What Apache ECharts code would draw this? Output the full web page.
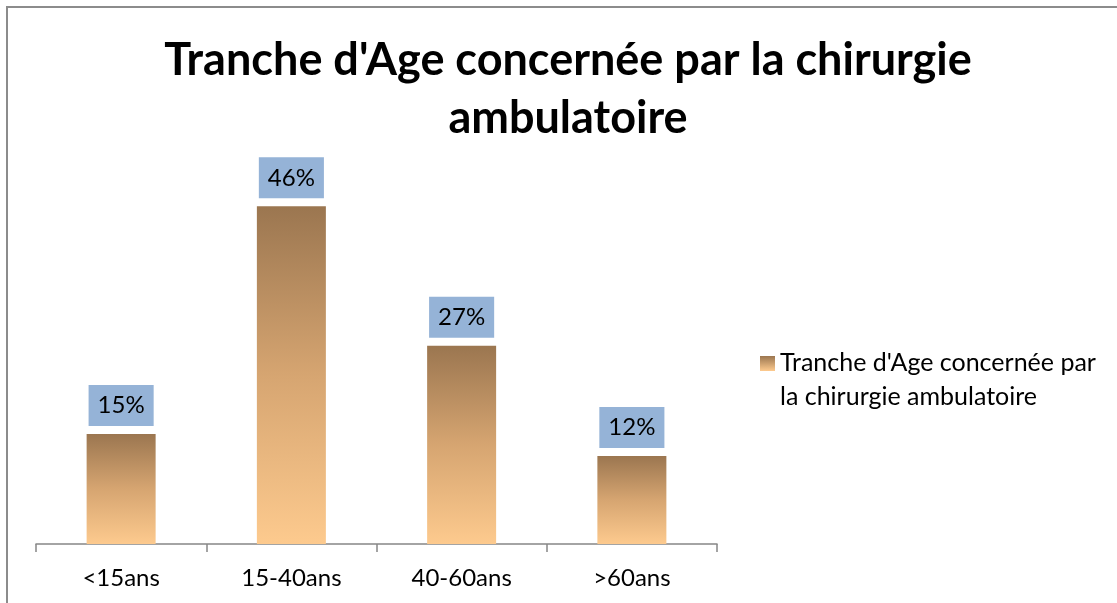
<!DOCTYPE html>
<html>
<head>
<meta charset="utf-8">
<script src="https://cdn.jsdelivr.net/npm/echarts@6/dist/echarts.min.js"></script>
<style>
  html, body { margin: 0; padding: 0; background: #fff; }
  #chart { width: 1117px; height: 603px; }
</style>
</head>
<body>
<div id="chart"></div>
<script>
    var categories = ['<15ans', '15-40ans', '40-60ans', '>60ans'];
    var values = [15, 46, 27, 12];
    var seriesName = "Tranche d'Age concernée par la chirurgie ambulatoire";

    var chart = echarts.init(document.getElementById('chart'));

    // degrade marron -> peche des barres
    var barGradient = new echarts.graphic.LinearGradient(0, 0, 0, 1, [
        { offset: 0, color: '#9b7650' },
        { offset: 0.5, color: '#d6a571' },
        { offset: 1, color: '#fdca8e' }
    ]);

    var option = {
        backgroundColor: '#fff',
        textStyle: { fontFamily: 'Lato' },
        title: {
            text: "Tranche d'Age concernée par la chirurgie\nambulatoire",
            left: 563,
            top: 26,
            textAlign: 'center',
            textStyle: {
                fontFamily: 'Lato',
                fontWeight: 'bold',
                fontSize: 45,
                lineHeight: 58,
                color: '#000'
            }
        },
        legend: {
            left: 755,
            top: 341,
            orient: 'vertical',
            itemWidth: 15,
            itemHeight: 48,
            icon: 'path://M0,0H10V10H0Z M0,32H10V32.01H0Z',
            data: [{
                name: seriesName,
                itemStyle: {
                    color: new echarts.graphic.LinearGradient(0, 0, 0, 0.31, [
                        { offset: 0, color: '#9b7650' },
                        { offset: 1, color: '#fdca8e' }
                    ])
                }
            }],
            formatter: function () {
                return "Tranche d'Age concernée par\nla chirurgie ambulatoire";
            },
            textStyle: {
                fontFamily: 'Lato',
                fontSize: 25,
                lineHeight: 34,
                color: '#000'
            }
        },
        grid: {
            left: 36,
            right: 400,
            top: 177,
            bottom: 59
        },
        xAxis: {
            type: 'category',
            data: categories,
            axisLine: { lineStyle: { color: '#868686', width: 1.5 } },
            axisTick: { show: true, length: 8, lineStyle: { color: '#868686', width: 1.5 } },
            axisLabel: {
                margin: 22,
                fontFamily: 'Lato',
                fontSize: 24,
                color: '#000'
            }
        },
        yAxis: {
            type: 'value',
            min: 0,
            max: 50,
            show: false,
            splitLine: { show: false }
        },
        series: [{
            name: seriesName,
            type: 'bar',
            barWidth: 69,
            data: values,
            itemStyle: { color: barGradient },
            label: {
                show: true,
                position: 'top',
                distance: 8,
                formatter: '{c}%',
                backgroundColor: '#95b3d7',
                padding: [8, 9, 8, 9],
                lineHeight: 25,
                fontFamily: 'Lato',
                fontSize: 24,
                color: '#000'
            }
        }],
        graphic: [{
            // cadre du graphique (haut et gauche visibles)
            type: 'rect',
            shape: { x: 7, y: 7, width: 1200, height: 700 },
            style: { fill: 'none', stroke: '#8c8c8c', lineWidth: 2 },
            silent: true
        }]
    };
    chart.setOption(option);
</script>
</body>
</html>
